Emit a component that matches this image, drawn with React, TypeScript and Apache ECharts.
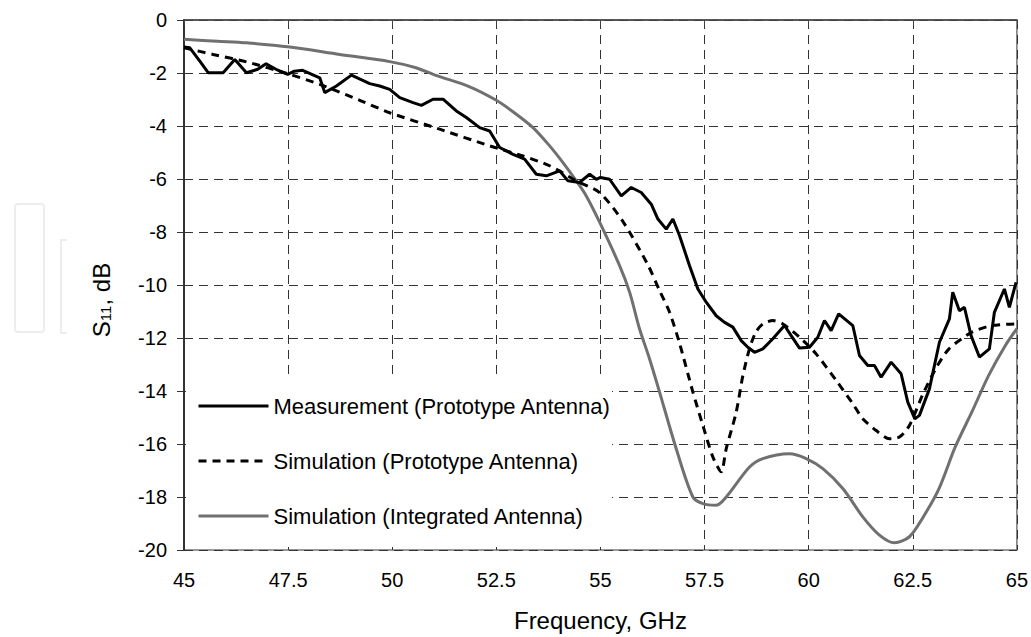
import React, { useEffect, useRef } from "react";
import * as echarts from "echarts";

// ---- data ----
const xTicks = [45, 47.5, 50, 52.5, 55, 57.5, 60, 62.5, 65];
const yTicks = [0, -2, -4, -6, -8, -10, -12, -14, -16, -18, -20];

const seriesNames = [
  "Measurement (Prototype Antenna)",
  "Simulation (Prototype Antenna)",
  "Simulation (Integrated Antenna)",
];

const measFreq = [45.0, 45.14, 45.38, 45.58, 45.94, 46.22, 46.5, 46.77, 46.97, 47.21, 47.49, 47.65, 47.85, 48.26, 48.38, 48.66, 49.02, 49.46, 49.7, 49.94, 50.18, 50.5, 50.7, 50.98, 51.22, 51.54, 51.78, 52.1, 52.34, 52.58, 52.9, 53.18, 53.46, 53.7, 54.02, 54.22, 54.5, 54.74, 54.9, 55.0, 55.22, 55.5, 55.74, 55.98, 56.22, 56.38, 56.58, 56.74, 56.9, 57.14, 57.34, 57.54, 57.78, 57.98, 58.18, 58.38, 58.54, 58.7, 58.9, 59.14, 59.42, 59.58, 59.78, 60.02, 60.22, 60.38, 60.54, 60.72, 61.06, 61.22, 61.42, 61.58, 61.74, 61.98, 62.22, 62.38, 62.55, 62.66, 62.9, 63.14, 63.38, 63.46, 63.62, 63.74, 63.9, 64.1, 64.34, 64.46, 64.7, 64.82, 64.98];
const measS11 = [-1.02, -1.05, -1.55, -1.99, -1.99, -1.49, -1.99, -1.86, -1.65, -1.86, -2.05, -1.93, -1.9, -2.18, -2.74, -2.49, -2.08, -2.4, -2.49, -2.62, -2.93, -3.12, -3.22, -2.99, -2.99, -3.43, -3.68, -4.06, -4.19, -4.81, -5.07, -5.25, -5.82, -5.88, -5.69, -6.07, -6.13, -5.82, -6.01, -5.94, -6.01, -6.64, -6.32, -6.51, -6.95, -7.51, -7.89, -7.51, -8.14, -9.27, -10.15, -10.65, -11.16, -11.41, -11.59, -12.1, -12.35, -12.54, -12.41, -12.03, -11.53, -11.91, -12.38, -12.35, -11.97, -11.34, -11.72, -11.09, -11.53, -12.66, -13.04, -13.04, -13.48, -12.91, -13.35, -14.42, -15.05, -14.92, -13.92, -12.16, -11.28, -10.27, -10.97, -10.84, -11.91, -12.72, -12.41, -11.03, -10.15, -10.84, -9.9];

const simProtoFreq = [45.0, 45.7, 46.5, 47.54, 48.26, 49.22, 49.94, 51.14, 52.34, 53.14, 53.78, 54.42, 54.98, 55.53, 56.13, 56.42, 56.66, 56.9, 57.22, 57.46, 57.7, 57.9, 58.02, 58.26, 58.42, 58.58, 58.73, 58.9, 59.14, 59.38, 59.78, 60.18, 60.66, 61.06, 61.3, 61.62, 61.94, 62.18, 62.42, 62.73, 63.05, 63.37, 63.92, 64.4, 65.0];
const simProtoS11 = [-1.05, -1.3, -1.58, -2.05, -2.43, -3.03, -3.5, -4.12, -4.75, -5.13, -5.5, -6.07, -6.51, -7.58, -9.21, -10.21, -11.03, -12.2, -14.04, -15.3, -16.49, -17.05, -16.18, -14.8, -13.42, -12.4, -11.78, -11.47, -11.34, -11.47, -11.97, -12.6, -13.6, -14.48, -15.05, -15.49, -15.8, -15.74, -15.3, -14.17, -13.16, -12.41, -11.78, -11.53, -11.47];

const simIntFreq = [45.0, 45.8, 46.5, 47.54, 48.74, 49.94, 50.57, 51.05, 51.86, 52.49, 52.89, 53.38, 53.78, 54.1, 54.42, 54.66, 54.98, 55.46, 55.7, 55.94, 56.18, 56.42, 56.82, 57.22, 57.46, 57.78, 58.02, 58.58, 58.9, 59.54, 59.94, 60.34, 60.82, 61.3, 61.7, 62.06, 62.42, 62.73, 63.13, 63.52, 63.92, 64.32, 64.72, 65.0];
const simIntS11 = [-0.73, -0.8, -0.86, -1.02, -1.3, -1.57, -1.8, -2.09, -2.52, -3.02, -3.45, -4.06, -4.75, -5.38, -6.07, -6.64, -7.63, -9.27, -10.27, -11.66, -12.79, -14.04, -16.18, -18.0, -18.25, -18.31, -18.0, -16.87, -16.55, -16.37, -16.55, -16.93, -17.68, -18.75, -19.44, -19.73, -19.5, -18.81, -17.68, -16.11, -14.79, -13.42, -12.29, -11.65];

const zip = (xs: number[], ys: number[]) => xs.map((x, i) => [x, ys[i]]);

const FONT = "'Liberation Sans', Arial, Helvetica, sans-serif";

export default function App() {
  const ref = useRef<HTMLDivElement>(null);

  useEffect(() => {
    document.body.style.margin = "0";
    const chart = echarts.init(ref.current!, null, { renderer: "svg" });
    const axisColor = "#444";
    chart.setOption({
      animation: false,
      backgroundColor: "#fff",
      textStyle: { fontFamily: FONT },
      grid: {
        left: 184,
        right: 14,
        top: 20,
        bottom: 85,
        show: true,
        borderColor: "#777",
        borderWidth: 1.5,
      },
      xAxis: {
        type: "value",
        min: xTicks[0],
        max: xTicks[xTicks.length - 1],
        interval: 2.5,
        name: "Frequency, GHz",
        nameLocation: "middle",
        nameGap: 58,
        nameTextStyle: { fontSize: 24, color: "#000", fontFamily: FONT },
        axisLine: { lineStyle: { color: axisColor, width: 1.5 } },
        axisTick: { show: true, length: 5, lineStyle: { color: axisColor } },
        axisLabel: { fontSize: 20, color: "#000", margin: 20, fontFamily: FONT },
        splitLine: { show: true, lineStyle: { type: [9, 6], color: "#333", width: 1 } },
      },
      yAxis: {
        type: "value",
        min: yTicks[yTicks.length - 1],
        max: yTicks[0],
        interval: 2,
        axisLine: { show: true, lineStyle: { color: "#333", width: 2 } },
        axisTick: { show: true, length: 7, lineStyle: { color: "#333" } },
        axisLabel: { fontSize: 20, color: "#000", margin: 17, fontFamily: FONT },
        splitLine: { show: true, lineStyle: { type: [9, 6], color: "#333", width: 1 } },
      },
      legend: {
        orient: "vertical",
        left: 192,
        top: 390,
        itemWidth: 70,
        itemHeight: 14,
        itemGap: 33,
        selectedMode: false,
        data: seriesNames,
        itemStyle: { opacity: 0 },
        lineStyle: { width: 3 },
        textStyle: { fontSize: 22, color: "#000", lineHeight: 22, fontFamily: FONT },
      },
      graphic: [
        {
          type: "rect",
          z: 1,
          shape: { x: 186, y: 377, width: 426, height: 170 },
          style: { fill: "#fff" },
          silent: true,
        },
        {
          type: "rect",
          shape: { x: 15, y: 204, width: 29, height: 128, r: 3 },
          style: { fill: "none", stroke: "#ededed", lineWidth: 2 },
          silent: true,
        },
        {
          type: "polyline",
          shape: { points: [[67, 240], [61, 240], [61, 333], [67, 333]] },
          style: { fill: "none", stroke: "#ededed", lineWidth: 2 },
          silent: true,
        },
        {
          type: "text",
          x: 100,
          y: 300,
          rotation: Math.PI / 2,
          style: {
            text: "{a|S}{b|11}{a|, dB}",
            align: "center",
            verticalAlign: "middle",
            fill: "#000",
            rich: {
              a: { fontSize: 24, fontFamily: FONT, fill: "#000", lineHeight: 26, verticalAlign: "bottom" },
              b: { fontSize: 15, fontFamily: FONT, fill: "#000", lineHeight: 17, verticalAlign: "bottom" },
            },
          },
        },
      ],
      series: [
        {
          name: seriesNames[0],
          type: "line",
          data: zip(measFreq, measS11),
          showSymbol: false,
          symbol: "none",
          z: 4,
          lineStyle: { color: "#000", width: 3, type: "solid" },
          itemStyle: { color: "#000" },
        },
        {
          name: seriesNames[1],
          type: "line",
          data: zip(simProtoFreq, simProtoS11),
          showSymbol: false,
          symbol: "none",
          smooth: 0.25,
          z: 3,
          lineStyle: { color: "#000", width: 3, type: [8, 6] },
          itemStyle: { color: "#000" },
        },
        {
          name: seriesNames[2],
          type: "line",
          data: zip(simIntFreq, simIntS11),
          showSymbol: false,
          symbol: "none",
          smooth: 0.3,
          z: 2,
          lineStyle: { color: "#707070", width: 3 },
          itemStyle: { color: "#707070" },
        },
      ],
    });
    return () => chart.dispose();
  }, []);

  return (
    <div
      ref={ref}
      style={{ position: "absolute", left: 0, top: 0, width: 1031, height: 637 }}
    />
  );
}
